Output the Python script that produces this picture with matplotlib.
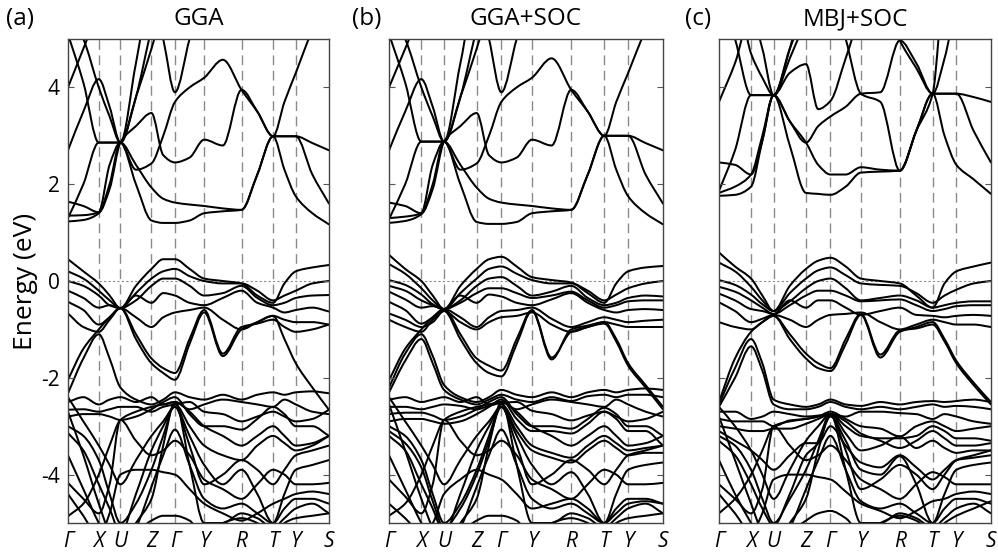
import matplotlib.pyplot as plt
import numpy as np
from matplotlib.path import Path
from matplotlib.patches import PathPatch

plt.rcParams['font.family'] = ['Open Sans', 'DejaVu Sans']

K_LABELS = ['Γ', 'X', 'U', 'Z', 'Γ', 'Y', 'R', 'T', 'Y', 'S']
K_NODES = [0.0, 0.118, 0.201, 0.320, 0.410, 0.522, 0.665, 0.786, 0.873, 1.0]
Y_TICKS = [-4, -2, 0, 2, 4]

# band energies (eV) sampled at each high-symmetry point and at the
# middle of every segment: G m X m U m Z m G m Y m R m T m Y m S
GGA_BANDS = [
    # conduction
    [1.23, 1.26, 1.40, 2.00, 2.86, 2.00, 1.25, 1.20, 1.20, 1.25, 1.40, 1.44, 1.47, 2.20, 2.99, 2.30, 1.75, 1.40, 1.17],
    [1.35, 1.36, 1.42, 2.40, 2.86, 2.40, 1.93, 1.70, 1.62, 1.58, 1.55, 1.50, 1.47, 2.20, 2.99, 2.99, 2.99, 2.20, 1.60],
    [1.64, 1.55, 1.42, 1.90, 2.86, 3.20, 3.47, 2.60, 2.45, 2.55, 2.92, 2.80, 3.95, 3.50, 2.99, 2.99, 2.99, 2.85, 2.70],
    [1.30, 2.00, 2.86, 2.86, 2.86, 2.30, 2.43, 3.00, 3.70, 4.00, 4.20, 4.57, 3.95, 3.50, 2.99, 3.70, 4.30, 5.20, 6.00],
    [2.70, 3.50, 4.17, 3.60, 2.86, 3.80, 5.20, 6.00, 6.00, 6.00, 6.00, 6.00, 6.00, 6.00, 6.00, 6.00, 6.00, 6.00, 6.00],
    [4.00, 4.80, 5.60, 6.00, 6.00, 6.00, 6.00, 6.00, 6.00, 6.00, 6.00, 6.00, 6.00, 6.00, 6.00, 6.00, 6.00, 6.00, 6.00],
    [5.10, 4.10, 2.86, 2.86, 2.86, 3.80, 4.80, 5.60, 6.00, 6.00, 6.00, 6.00, 6.00, 6.00, 6.00, 6.00, 6.00, 6.00, 6.00],
    [5.60, 5.00, 4.00, 3.40, 2.86, 4.50, 6.00, 6.00, 6.00, 6.00, 6.00, 6.00, 6.00, 6.00, 6.00, 6.00, 6.00, 6.00, 6.00],
    [6.00, 6.00, 6.00, 6.00, 6.00, 6.00, 6.00, 5.00, 3.90, 5.00, 6.00, 6.00, 6.00, 6.00, 6.00, 6.00, 6.00, 6.00, 6.00],
    # valence
    [0.45, 0.20, -0.05, -0.30, -0.56, -0.10, 0.25, 0.45, 0.45, 0.25, 0.05, 0.00, -0.05, -0.30, -0.45, -0.05, 0.20, 0.28, 0.33],
    [0.20, 0.05, -0.20, -0.40, -0.56, -0.25, 0.05, 0.20, 0.25, 0.10, 0.00, -0.05, -0.05, -0.20, -0.40, -0.30, -0.20, -0.05, 0.00],
    [0.00, -0.10, -0.30, -0.50, -0.56, -0.40, -0.10, 0.05, 0.05, -0.10, -0.30, -0.25, -0.10, -0.35, -0.50, -0.45, -0.35, -0.30, -0.29],
    [-0.20, -0.35, -0.55, -0.50, -0.56, -0.30, -0.45, -0.25, -0.30, -0.45, -0.50, -0.35, -0.20, -0.45, -0.55, -0.65, -0.60, -0.55, -0.63],
    [-0.43, -0.60, -0.90, -0.75, -0.56, -0.75, -0.95, -0.75, -0.65, -0.60, -0.55, -0.80, -1.00, -0.85, -0.72, -0.80, -0.85, -0.85, -0.90],
    [-0.67, -0.95, -1.05, -0.80, -0.56, -1.20, -1.70, -1.90, -2.04, -1.30, -0.65, -1.55, -1.00, -0.85, -0.72, -1.20, -1.70, -2.20, -2.66],
    [-2.04, -1.40, -1.00, -0.75, -0.56, -1.10, -1.60, -1.80, -1.90, -1.20, -0.60, -1.50, -0.95, -0.88, -0.80, -0.95, -1.05, -1.00, -0.90],
    [-2.32, -1.60, -1.10, -1.60, -2.20, -2.45, -2.55, -2.45, -2.30, -2.40, -2.45, -2.35, -2.45, -2.35, -2.30, -2.35, -2.30, -2.28, -2.32],
    [-2.50, -2.40, -2.55, -2.45, -2.40, -2.50, -2.40, -2.55, -2.50, -2.65, -2.55, -2.45, -2.50, -2.55, -2.60, -2.45, -2.55, -2.70, -2.75],
    [-2.66, -2.65, -2.70, -2.65, -2.60, -2.60, -2.70, -2.60, -2.55, -2.50, -2.70, -2.75, -2.90, -2.80, -2.70, -2.80, -2.90, -2.85, -2.66],
    [-2.80, -2.75, -2.75, -2.80, -2.87, -2.80, -2.65, -2.50, -2.40, -2.75, -3.00, -3.00, -3.07, -2.85, -2.60, -2.75, -3.00, -3.00, -3.20],
    [-3.00, -3.20, -3.70, -4.40, -5.00, -4.60, -3.90, -3.20, -2.55, -3.00, -3.40, -3.60, -3.70, -3.40, -3.20, -3.35, -3.50, -3.40, -3.20],
    [-3.14, -3.50, -4.20, -4.70, -5.20, -4.40, -3.50, -3.00, -2.60, -3.20, -3.80, -4.20, -3.90, -4.40, -5.00, -4.40, -3.90, -3.80, -3.70],
    [-2.70, -3.60, -4.60, -5.20, -5.50, -5.00, -4.50, -3.40, -2.50, -3.80, -5.00, -5.00, -4.80, -4.90, -5.10, -4.90, -4.70, -4.60, -4.80],
    [-4.17, -4.50, -4.80, -4.20, -2.87, -3.30, -3.60, -3.50, -3.30, -3.60, -4.10, -4.30, -4.50, -4.20, -3.90, -4.00, -4.20, -4.20, -4.17],
    [-4.86, -4.60, -4.00, -3.40, -2.87, -2.70, -2.60, -2.55, -2.50, -2.70, -3.00, -3.20, -3.40, -3.20, -3.00, -3.20, -3.40, -3.35, -3.20],
    [-5.20, -5.10, -5.30, -5.50, -5.50, -5.20, -4.95, -4.85, -4.85, -4.95, -5.30, -5.00, -4.90, -5.00, -5.30, -5.00, -4.90, -4.85, -4.80],
    [-4.40, -4.85, -5.30, -4.80, -4.00, -3.90, -3.90, -3.95, -4.00, -4.30, -4.60, -4.80, -4.95, -4.80, -4.60, -4.50, -4.40, -4.35, -4.40],
    [-3.60, -4.30, -5.00, -5.40, -5.60, -5.10, -4.25, -3.60, -3.07, -3.80, -4.50, -4.70, -4.60, -4.80, -5.00, -4.70, -4.50, -4.50, -4.60],
    [-2.40, -2.90, -3.40, -3.80, -4.20, -3.70, -3.20, -2.90, -2.60, -3.40, -4.20, -4.00, -3.70, -3.90, -4.20, -3.90, -3.60, -3.50, -3.40],
]

GGA_SOC_BANDS = [
    # conduction
    [1.20, 1.24, 1.38, 2.00, 2.88, 2.00, 1.22, 1.18, 1.18, 1.22, 1.40, 1.44, 1.47, 2.20, 3.00, 2.30, 1.75, 1.40, 1.17],
    [1.30, 1.33, 1.40, 2.40, 2.88, 2.40, 1.93, 1.70, 1.62, 1.58, 1.55, 1.50, 1.47, 2.20, 3.00, 3.00, 3.00, 2.20, 1.60],
    [1.62, 1.55, 1.40, 1.90, 2.88, 3.20, 3.47, 2.60, 2.45, 2.55, 2.92, 2.80, 3.95, 3.50, 3.00, 3.00, 3.00, 2.85, 2.70],
    [1.28, 2.00, 2.88, 2.88, 2.88, 2.30, 2.43, 3.00, 3.70, 4.00, 4.20, 4.60, 3.95, 3.50, 3.00, 3.70, 4.30, 5.20, 6.00],
    [2.70, 3.50, 4.17, 3.60, 2.88, 3.80, 5.20, 6.00, 6.00, 6.00, 6.00, 6.00, 6.00, 6.00, 6.00, 6.00, 6.00, 6.00, 6.00],
    [4.00, 4.80, 5.60, 6.00, 6.00, 6.00, 6.00, 6.00, 6.00, 6.00, 6.00, 6.00, 6.00, 6.00, 6.00, 6.00, 6.00, 6.00, 6.00],
    [5.10, 4.10, 2.88, 2.88, 2.88, 3.80, 4.80, 5.60, 6.00, 6.00, 6.00, 6.00, 6.00, 6.00, 6.00, 6.00, 6.00, 6.00, 6.00],
    [5.60, 5.00, 4.00, 3.40, 2.88, 4.50, 6.00, 6.00, 6.00, 6.00, 6.00, 6.00, 6.00, 6.00, 6.00, 6.00, 6.00, 6.00, 6.00],
    [6.00, 6.00, 6.00, 6.00, 6.00, 6.00, 6.00, 5.00, 3.90, 5.00, 6.00, 6.00, 6.00, 6.00, 6.00, 6.00, 6.00, 6.00, 6.00],
    # valence
    [0.54, 0.25, 0.00, -0.30, -0.58, -0.10, 0.25, 0.45, 0.50, 0.30, 0.08, 0.02, -0.03, -0.25, -0.45, -0.05, 0.20, 0.28, 0.31],
    [0.35, 0.15, -0.15, -0.40, -0.58, -0.25, 0.05, 0.25, 0.30, 0.15, 0.02, -0.05, -0.05, -0.20, -0.40, -0.28, -0.15, -0.05, 0.00],
    [0.02, -0.08, -0.28, -0.48, -0.58, -0.40, -0.10, 0.05, 0.08, -0.10, -0.30, -0.22, -0.10, -0.35, -0.50, -0.45, -0.35, -0.30, -0.32],
    [-0.10, -0.20, -0.40, -0.50, -0.58, -0.45, -0.25, -0.15, -0.15, -0.25, -0.35, -0.30, -0.22, -0.40, -0.55, -0.50, -0.42, -0.40, -0.40],
    [-0.22, -0.38, -0.55, -0.52, -0.58, -0.30, -0.45, -0.28, -0.32, -0.45, -0.50, -0.38, -0.25, -0.45, -0.60, -0.65, -0.60, -0.58, -0.60],
    [-0.43, -0.60, -0.88, -0.75, -0.58, -0.75, -0.95, -0.75, -0.62, -0.60, -0.55, -0.78, -0.95, -0.85, -0.75, -0.80, -0.85, -0.82, -0.80],
    [-0.67, -0.80, -0.95, -0.85, -0.62, -0.85, -1.00, -0.85, -0.75, -0.72, -0.65, -0.90, -1.05, -0.95, -0.85, -0.90, -0.95, -0.95, -0.95],
    [-0.80, -0.95, -1.05, -0.80, -0.62, -1.20, -1.70, -1.90, -1.97, -1.30, -0.62, -1.62, -1.00, -0.92, -0.85, -1.20, -1.70, -2.15, -2.60],
    [-2.05, -1.40, -1.00, -0.75, -0.58, -1.10, -1.60, -1.75, -1.85, -1.20, -0.60, -1.58, -1.05, -0.95, -0.88, -1.25, -1.75, -2.20, -2.65],
    [-2.20, -1.50, -1.10, -1.55, -2.15, -2.40, -2.50, -2.40, -2.25, -2.35, -2.40, -2.30, -2.40, -2.30, -2.25, -2.30, -2.25, -2.22, -2.25],
    [-2.30, -1.65, -1.20, -1.70, -2.25, -2.45, -2.55, -2.45, -2.35, -2.45, -2.50, -2.40, -2.48, -2.38, -2.35, -2.40, -2.35, -2.35, -2.40],
    [-2.45, -2.40, -2.50, -2.45, -2.40, -2.50, -2.40, -2.55, -2.50, -2.65, -2.55, -2.45, -2.50, -2.55, -2.60, -2.45, -2.55, -2.70, -2.80],
    [-2.60, -2.60, -2.65, -2.60, -2.55, -2.58, -2.65, -2.58, -2.52, -2.50, -2.68, -2.75, -2.88, -2.78, -2.70, -2.80, -2.90, -2.85, -2.70],
    [-2.75, -2.72, -2.72, -2.78, -2.87, -2.80, -2.65, -2.50, -2.40, -2.75, -3.00, -3.00, -3.05, -2.85, -2.62, -2.75, -3.00, -3.00, -3.20],
    [-2.90, -2.85, -2.85, -2.90, -2.95, -2.90, -2.75, -2.60, -2.45, -2.85, -3.10, -3.10, -3.15, -2.95, -2.70, -2.85, -3.10, -3.10, -3.40],
    [-3.00, -3.20, -3.70, -4.40, -5.00, -4.60, -3.90, -3.20, -2.55, -3.00, -3.40, -3.55, -3.65, -3.40, -3.20, -3.35, -3.50, -3.45, -3.40],
    [-3.10, -3.35, -3.85, -4.55, -5.10, -4.70, -4.00, -3.30, -2.60, -3.10, -3.50, -3.65, -3.75, -3.50, -3.30, -3.45, -3.60, -3.55, -3.55],
    [-3.20, -3.50, -4.20, -4.70, -5.20, -4.40, -3.50, -3.00, -2.60, -3.20, -3.80, -4.20, -3.95, -4.40, -5.00, -4.40, -3.90, -3.80, -3.75],
    [-2.55, -3.50, -4.50, -5.10, -5.50, -5.00, -4.50, -3.40, -2.50, -3.80, -5.00, -5.00, -4.80, -4.90, -5.10, -4.90, -4.70, -4.60, -4.80],
    [-4.10, -4.45, -4.80, -4.20, -2.87, -3.30, -3.60, -3.50, -3.30, -3.60, -4.10, -4.30, -4.50, -4.20, -3.90, -4.00, -4.20, -4.20, -4.17],
    [-4.85, -4.60, -4.00, -3.40, -2.87, -2.70, -2.60, -2.55, -2.50, -2.70, -3.00, -3.20, -3.40, -3.20, -3.00, -3.20, -3.40, -3.35, -3.20],
    [-5.20, -5.10, -5.30, -5.50, -5.50, -5.20, -4.95, -4.85, -4.85, -4.95, -5.30, -5.00, -4.90, -5.00, -5.30, -5.00, -4.90, -4.85, -4.80],
    [-4.60, -4.90, -5.20, -5.00, -4.40, -4.10, -3.90, -4.00, -4.10, -4.40, -4.70, -4.60, -4.50, -4.70, -5.00, -4.80, -4.60, -4.55, -4.60],
    [-3.60, -4.30, -5.00, -5.40, -5.60, -5.10, -4.25, -3.60, -3.07, -3.80, -4.50, -4.70, -4.60, -4.80, -5.00, -4.70, -4.50, -4.50, -4.60],
    [-2.40, -2.90, -3.40, -3.80, -4.20, -3.70, -3.20, -2.90, -2.60, -3.40, -4.20, -4.00, -3.70, -3.90, -4.20, -3.90, -3.60, -3.50, -3.40],
]

MBJ_SOC_BANDS = [
    # conduction
    [1.76, 1.78, 1.95, 2.90, 3.84, 2.80, 1.82, 1.80, 1.78, 1.95, 2.24, 2.26, 2.28, 3.10, 3.87, 3.00, 2.40, 2.10, 1.80],
    [1.82, 1.95, 2.20, 3.00, 3.84, 3.30, 2.86, 2.40, 2.20, 2.20, 2.35, 2.30, 2.28, 3.10, 3.87, 3.87, 3.87, 3.10, 2.45],
    [1.86, 2.70, 3.84, 3.84, 3.84, 4.30, 4.48, 3.55, 3.72, 4.60, 5.50, 6.00, 4.97, 4.40, 3.87, 3.87, 3.87, 3.80, 3.70],
    [2.45, 2.40, 2.20, 2.90, 3.84, 3.30, 2.86, 3.20, 3.40, 3.60, 3.87, 3.90, 4.97, 4.50, 3.87, 4.60, 5.60, 6.00, 6.00],
    [3.70, 4.50, 5.50, 4.80, 3.84, 4.80, 5.60, 6.00, 6.00, 6.00, 6.00, 6.00, 6.00, 6.00, 6.00, 6.00, 6.00, 6.00, 6.00],
    [6.00, 5.00, 3.84, 3.84, 3.84, 4.80, 6.00, 6.00, 6.00, 6.00, 6.00, 6.00, 6.00, 6.00, 6.00, 6.00, 6.00, 6.00, 6.00],
    [6.00, 6.00, 4.70, 4.20, 3.84, 4.60, 5.40, 6.00, 6.00, 6.00, 6.00, 6.00, 6.00, 6.00, 6.00, 6.00, 6.00, 6.00, 6.00],
    [6.00, 6.00, 6.00, 6.00, 6.00, 6.00, 6.00, 6.00, 6.00, 5.00, 3.87, 3.70, 2.28, 3.10, 3.87, 6.00, 6.00, 6.00, 6.00],
    # valence
    [0.59, 0.30, 0.05, -0.30, -0.62, -0.10, 0.25, 0.42, 0.48, 0.30, 0.05, 0.00, -0.05, -0.30, -0.55, -0.05, 0.20, 0.30, 0.38],
    [0.38, 0.20, -0.12, -0.40, -0.62, -0.25, 0.05, 0.22, 0.28, 0.12, -0.05, -0.08, -0.10, -0.25, -0.45, -0.30, -0.18, -0.05, 0.00],
    [0.02, -0.08, -0.28, -0.48, -0.62, -0.42, -0.15, 0.00, 0.05, -0.15, -0.40, -0.35, -0.30, -0.40, -0.55, -0.50, -0.45, -0.42, -0.42],
    [-0.12, -0.22, -0.40, -0.55, -0.68, -0.50, -0.30, -0.20, -0.20, -0.30, -0.42, -0.40, -0.38, -0.50, -0.62, -0.58, -0.52, -0.50, -0.50],
    [-0.26, -0.40, -0.58, -0.62, -0.68, -0.40, -0.55, -0.40, -0.40, -0.55, -0.70, -0.62, -0.55, -0.70, -0.72, -0.75, -0.72, -0.70, -0.72],
    [-0.44, -0.62, -0.85, -0.78, -0.70, -0.80, -0.95, -0.80, -0.70, -0.68, -0.65, -0.85, -1.00, -0.90, -0.80, -0.85, -0.90, -0.90, -0.95],
    [-0.85, -0.95, -1.00, -0.85, -0.72, -1.20, -1.60, -1.80, -1.86, -1.30, -0.70, -1.58, -1.05, -0.95, -0.85, -1.20, -1.65, -2.10, -2.50],
    [-2.50, -1.60, -1.05, -0.85, -0.72, -1.10, -1.50, -1.70, -1.80, -1.20, -0.68, -1.52, -1.02, -0.98, -0.90, -1.25, -1.70, -2.15, -2.55],
    [-2.55, -1.80, -1.20, -1.70, -2.45, -2.55, -2.60, -2.55, -2.45, -2.55, -2.58, -2.50, -2.55, -2.50, -2.48, -2.50, -2.48, -2.45, -2.50],
    [-2.60, -2.00, -1.35, -1.85, -2.55, -2.65, -2.65, -2.60, -2.50, -2.60, -2.65, -2.60, -2.65, -2.60, -2.55, -2.60, -2.58, -2.60, -2.65],
    [-2.70, -2.70, -2.85, -2.80, -2.70, -2.75, -2.80, -2.78, -2.75, -2.80, -2.70, -2.70, -2.73, -2.75, -2.85, -2.75, -2.80, -2.90, -2.95],
    [-2.85, -2.90, -2.90, -2.90, -3.00, -2.88, -2.85, -2.80, -2.70, -2.85, -3.00, -3.05, -3.21, -3.00, -2.90, -3.00, -3.10, -3.05, -3.00],
    [-3.00, -3.05, -3.10, -3.10, -3.05, -3.05, -2.95, -2.85, -2.75, -3.00, -3.20, -3.25, -3.25, -3.20, -3.00, -3.10, -3.25, -3.25, -3.30],
    [-3.20, -3.40, -3.90, -4.50, -5.00, -4.50, -3.90, -3.30, -2.75, -3.15, -3.50, -3.40, -3.21, -3.45, -3.30, -3.45, -3.55, -3.50, -3.50],
    [-3.30, -3.60, -4.20, -4.70, -5.05, -4.40, -3.60, -3.35, -2.80, -3.30, -3.90, -4.00, -3.62, -4.20, -5.00, -4.40, -3.90, -3.80, -3.75],
    [-2.80, -3.70, -4.60, -5.20, -5.50, -5.00, -4.50, -3.50, -2.75, -3.90, -5.00, -5.00, -4.80, -4.90, -5.10, -4.90, -4.70, -4.60, -4.80],
    [-4.20, -4.50, -4.80, -4.30, -3.00, -3.40, -3.70, -3.60, -3.40, -3.70, -4.10, -4.30, -4.50, -4.20, -3.95, -4.05, -4.20, -4.20, -4.20],
    [-4.80, -4.50, -4.00, -3.50, -3.00, -2.90, -2.85, -2.80, -2.75, -2.90, -3.15, -3.30, -3.45, -3.30, -3.10, -3.25, -3.40, -3.40, -3.35],
    [-5.20, -5.10, -5.30, -5.50, -5.50, -5.20, -4.95, -4.80, -4.75, -4.90, -5.20, -5.00, -4.85, -4.95, -5.20, -5.00, -4.85, -4.70, -4.55],
    [-4.40, -4.80, -5.20, -4.80, -4.10, -4.00, -4.00, -4.05, -4.10, -4.35, -4.60, -4.75, -4.90, -4.75, -4.55, -4.50, -4.40, -4.35, -4.40],
    [-3.70, -4.40, -5.00, -5.40, -5.60, -5.10, -4.30, -3.70, -3.20, -3.90, -4.55, -4.70, -4.60, -4.80, -5.00, -4.70, -4.50, -4.50, -4.60],
    [-3.10, -3.30, -3.50, -3.70, -3.90, -3.60, -3.35, -3.35, -3.00, -3.40, -3.75, -3.85, -3.60, -3.85, -4.10, -3.90, -3.70, -3.65, -3.60],
    [-2.60, -3.00, -3.50, -4.00, -4.50, -3.90, -3.30, -3.00, -2.75, -3.50, -4.30, -4.10, -3.80, -4.00, -4.30, -4.00, -3.70, -3.60, -3.50],
]

PANELS = [
    ('(a)', 'GGA', GGA_BANDS),
    ('(b)', 'GGA+SOC', GGA_SOC_BANDS),
    ('(c)', 'MBJ+SOC', MBJ_SOC_BANDS),
]

# k positions of the samples: nodes plus segment midpoints
k_path = [K_NODES[0]]
for a, b in zip(K_NODES[:-1], K_NODES[1:]):
    k_path += [(a + b) / 2, b]
k_path = np.array(k_path)


def band_path(x, y):
    """Smooth cubic Bezier path through the sampled energies (monotone tangents)."""
    y = np.asarray(y, dtype=float)
    h = np.diff(x)
    d = np.diff(y) / h
    m = np.zeros_like(y)
    m[0], m[-1] = d[0], d[-1]
    for k in range(1, len(y) - 1):
        if d[k - 1] * d[k] > 0:
            w1 = 2 * h[k] + h[k - 1]
            w2 = h[k] + 2 * h[k - 1]
            m[k] = (w1 + w2) / (w1 / d[k - 1] + w2 / d[k])
    verts = [(x[0], y[0])]
    codes = [Path.MOVETO]
    for k in range(len(h)):
        verts += [(x[k] + h[k] / 3, y[k] + m[k] * h[k] / 3),
                  (x[k + 1] - h[k] / 3, y[k + 1] - m[k + 1] * h[k] / 3),
                  (x[k + 1], y[k + 1])]
        codes += [Path.CURVE4] * 3
    return Path(verts, codes)


# axes boxes in figure fractions [left, bottom, width, height]
BOXES = [
    [0.0681, 0.061, 0.2615, 0.869],
    [0.3898, 0.061, 0.2745, 0.869],
    [0.7204, 0.061, 0.2725, 0.869],
]
LABEL_X = [0.006, 0.353, 0.686]

fig = plt.figure(figsize=(9.98, 5.57), dpi=100)

for i, (tag, title, bands) in enumerate(PANELS):
    ax = fig.add_axes(BOXES[i])
    for band in bands:
        ax.add_patch(PathPatch(band_path(k_path, band), facecolor='none',
                               edgecolor='black', lw=1.45, joinstyle='round',
                               capstyle='round'))
    for x in K_NODES[1:-1]:
        ax.axvline(x, color='#8a8a8a', lw=1.0, ls=(0, (7, 4)), zorder=0)
    ax.axhline(0, color='#8a8a8a', lw=0.8, ls=(0, (2, 2)), zorder=0)

    ax.set_xlim(0, 1)
    ax.set_ylim(-5, 5)
    ax.set_xticks(K_NODES)
    ax.set_xticklabels(K_LABELS, style='italic')
    ax.tick_params(axis='x', length=0, pad=6, labelsize=15)
    ax.set_yticks(Y_TICKS)
    ax.tick_params(axis='y', direction='in', left=True, right=True,
                   length=4, width=0.8, color='#555555', labelsize=15, pad=6)
    if i == 0:
        ax.set_yticklabels([str(t) for t in Y_TICKS])
        ax.set_ylabel('Energy (eV)', fontsize=19, labelpad=2)
    else:
        ax.set_yticklabels([])
    for sp in ax.spines.values():
        sp.set_color('#444444')
        sp.set_linewidth(1.0)

    box = BOXES[i]
    fig.text(box[0] + box[2] / 2, 0.966, title, ha='center', va='center', fontsize=17.5)
    fig.text(LABEL_X[i], 0.966, tag, ha='left', va='center', fontsize=17.5)

fig.savefig('out.png', dpi=100)
